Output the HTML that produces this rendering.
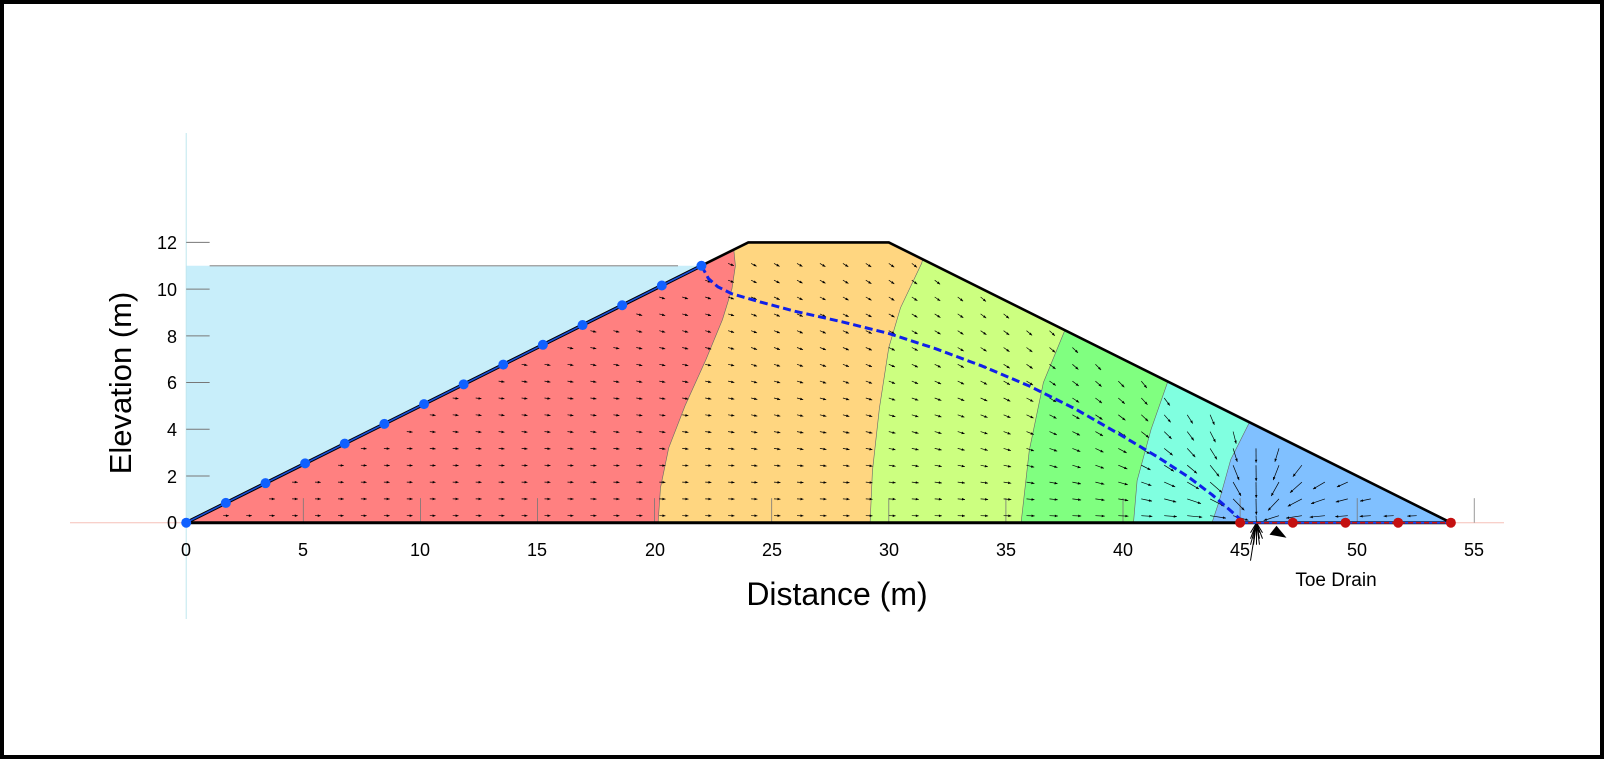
<!DOCTYPE html>
<html><head><meta charset="utf-8"><style>
html,body{margin:0;padding:0;background:#fff}
#wrap{width:1604px;height:759px;box-sizing:border-box;border:4px solid #000;position:relative;overflow:hidden;background:#fff}
svg{position:absolute;left:-4px;top:-4px}
text{font-family:"Liberation Sans",sans-serif;fill:#000}
</style></head><body><div id="wrap">
<svg id="s" width="1604" height="759" viewBox="0 0 1604 759">
<g id="g"></g>
<g font-size="18" text-anchor="middle">
<text x="186" y="556">0</text><text x="303" y="556">5</text><text x="420" y="556">10</text><text x="537" y="556">15</text><text x="655" y="556">20</text><text x="772" y="556">25</text><text x="889" y="556">30</text><text x="1006" y="556">35</text><text x="1123" y="556">40</text><text x="1240" y="556">45</text><text x="1357" y="556">50</text><text x="1474" y="556">55</text>
</g>
<g font-size="18" text-anchor="end">
<text x="177" y="529">0</text><text x="177" y="483">2</text><text x="177" y="436">4</text><text x="177" y="389">6</text><text x="177" y="343">8</text><text x="177" y="296">10</text><text x="177" y="249">12</text>
</g>
<text x="837" y="605" font-size="32" text-anchor="middle">Distance (m)</text>
<text x="0" y="0" font-size="31" text-anchor="middle" transform="translate(131 383) rotate(-90)">Elevation (m)</text>
<text x="1336" y="586" font-size="19" text-anchor="middle">Toe Drain</text>
</svg></div>
<script>
var X=function(x){return 186.2+23.42*x},Y=function(y){return 522.7-23.36*y};
function P(a){return a.map(function(p){return X(p[0]).toFixed(1)+','+Y(p[1]).toFixed(1)}).join(' ')}
var h='';
h+='<defs><clipPath id="dam"><polygon points="'+P([[0,0],[24,12],[30,12],[54,0]])+'"/></clipPath></defs>';
h+='<polygon points="'+P([[0,0],[0,11],[22,11]])+'" fill="#c8eefa"/>';
h+='<line x1="'+X(1)+'" y1="'+Y(11)+'" x2="'+X(21)+'" y2="'+Y(11)+'" stroke="#999" stroke-width="1.2"/>';
h+='<line x1="186.2" y1="133" x2="186.2" y2="619" stroke="#bfe6ee" stroke-width="1"/>';
h+='<line x1="70" y1="'+Y(0)+'" x2="1504" y2="'+Y(0)+'" stroke="#f6c0b8" stroke-width="1"/>';
var B=[
 [[43.8,0],[44.1,0.9],[44.6,2.7],[45.4,4.3],[46,6]],
 [[40.45,0],[40.6,1.8],[41.2,4],[41.9,6],[42.5,8]],
 [[35.65,0],[36,3.1],[36.6,6],[37.5,8.2],[38,10]],
 [[29.2,0],[29.3,2.2],[29.6,4.9],[30,7.5],[30.5,9.2],[31.4,11.1],[31.8,12.5]],
 [[20.15,0],[20.25,1.5],[20.6,3.2],[21.3,5],[22.2,7],[22.9,8.7],[23.3,10],[23.45,11],[23.3,12.5]]
];
var C=['#80ffe0','#80ff80','#ccff80','#ffd680','#ff8080'];
h+='<g clip-path="url(#dam)"><polygon points="'+P([[0,0],[24,12],[30,12],[54,0]])+'" fill="#80c0ff"/>';
for(var i=0;i<5;i++){var pts=[[-1,-1],[B[i][0][0],-1]].concat(B[i]);var l=B[i][B[i].length-1];pts.push([l[0],13],[-1,13]);
 h+='<polygon points="'+P(pts)+'" fill="'+C[i]+'" stroke="none"/>';
 h+='<polyline points="'+P(B[i])+'" fill="none" stroke="#666" stroke-width="0.6"/>';}
for(var t=5;t<=55;t+=5){h+='<line x1="'+X(t)+'" y1="'+Y(0)+'" x2="'+X(t)+'" y2="'+Y(1.05)+'" stroke="#777" stroke-width="0.8"/>';}
var D=[45.7,0];
for(var x=0.6;x<54;x+=0.98){for(var y=0.3;y<12;y+=0.72){
 if(y>x/2-0.35||y>(54-x)/2-0.35||y>11.6)continue;
 var dx=D[0]-x,dy=D[1]-y,d=Math.sqrt(dx*dx+dy*dy)||1;var ux=dx/d,uy=dy/d;
 if(x<24){ux=ux+0.2;}var n=Math.sqrt(ux*ux+uy*uy);ux/=n;uy/=n;
 var L=Math.min(5+30/d,16);var x1=X(x),y1=Y(y),x2=x1+ux*L,y2=y1-uy*L;
 h+='<line x1="'+x1.toFixed(1)+'" y1="'+y1.toFixed(1)+'" x2="'+x2.toFixed(1)+'" y2="'+y2.toFixed(1)+'" stroke="#000" stroke-width="0.7"/>';
 var hx=x2-ux*3,hy=y2+uy*3;h+='<polygon points="'+x2.toFixed(1)+','+y2.toFixed(1)+' '+(hx-uy*1.3).toFixed(1)+','+(hy-ux*1.3).toFixed(1)+' '+(hx+uy*1.3).toFixed(1)+','+(hy+ux*1.3).toFixed(1)+'" fill="#000"/>';
}}
h+='</g>';
for(var t=0;t<=12;t+=2){h+='<line x1="'+X(0)+'" y1="'+Y(t)+'" x2="'+X(1)+'" y2="'+Y(t)+'" stroke="#777" stroke-width="1"/>';}
h+='<line x1="'+X(55)+'" y1="'+Y(0)+'" x2="'+X(55)+'" y2="'+Y(1.05)+'" stroke="#999" stroke-width="1"/>';
var dxp=X(45.7),dyp=Y(0);
for(var a=0;a<14;a++){var L=10+(a%3)*6;h+='<line x1="'+dxp+'" y1="'+dyp+'" x2="'+(dxp+(a%5-2)*3).toFixed(1)+'" y2="'+(dyp+L).toFixed(1)+'" stroke="#000" stroke-width="1"/>';}
h+='<line x1="'+dxp+'" y1="'+dyp+'" x2="'+(dxp-6)+'" y2="'+(dyp+38)+'" stroke="#000" stroke-width="1"/>';
h+='<polygon points="'+(dxp+30)+','+(dyp+15)+' '+(dxp+13)+','+(dyp+12)+' '+(dxp+20)+','+(dyp+3)+'" fill="#000"/>';
h+='<polyline points="'+P([[22,11],[24,12],[30,12],[54,0]])+'" fill="none" stroke="#000" stroke-width="2.6"/>';
h+='<line x1="'+X(0)+'" y1="'+Y(0)+'" x2="'+X(54)+'" y2="'+Y(0)+'" stroke="#000" stroke-width="3"/>';
h+='<line x1="'+X(0)+'" y1="'+Y(0)+'" x2="'+X(22)+'" y2="'+Y(11)+'" stroke="#000" stroke-width="3.5"/>';
h+='<line x1="'+X(0)+'" y1="'+Y(0)+'" x2="'+X(22)+'" y2="'+Y(11)+'" stroke="#1a4fd6" stroke-width="1.6"/>';
h+='<line x1="'+X(45)+'" y1="'+Y(0)+'" x2="'+X(54)+'" y2="'+Y(0)+'" stroke="#2244ee" stroke-width="2"/>';
h+='<line x1="'+X(45)+'" y1="'+Y(0)+'" x2="'+X(54)+'" y2="'+Y(0)+'" stroke="#cc1111" stroke-width="1.5" stroke-dasharray="5,3"/>';
var ph=[[22,11],[22.3,10.45],[22.7,10.1],[23.3,9.8],[24.5,9.45],[26,9.05],[28,8.6],[30,8.1],[32,7.45],[34,6.7],[36,5.85],[38,4.85],[40,3.7],[41.5,2.8],[42.8,1.95],[43.8,1.2],[44.5,0.6],[45,0.15],[45.2,0]];
h+='<polyline points="'+P(ph)+'" fill="none" stroke="#1020e8" stroke-width="3" stroke-dasharray="8,4" stroke-linejoin="round"/>';
for(var i=0;i<14;i++){var x=22*i/13;h+='<circle cx="'+X(x)+'" cy="'+Y(x/2)+'" r="5" fill="#1060ff"/>';}
for(var i=0;i<5;i++){var x=45+2.25*i;h+='<circle cx="'+X(x)+'" cy="'+Y(0)+'" r="5" fill="#c41010"/>';}
document.getElementById('g').innerHTML=h;
</script>
</body></html>
